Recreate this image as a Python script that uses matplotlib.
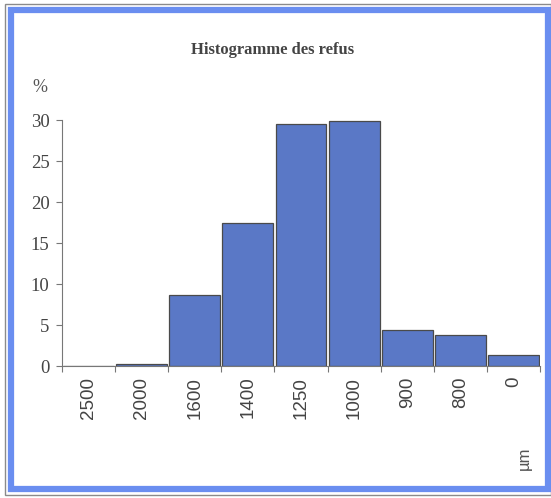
import matplotlib
matplotlib.use("Agg")
import matplotlib.pyplot as plt
from matplotlib.patches import Rectangle

# tamis (µm) et refus (%)
tamis = ["2500", "2000", "1600", "1400", "1250", "1000", "900", "800", "0"]
refus = [0.05, 0.2, 8.7, 17.4, 29.5, 29.9, 4.4, 3.8, 1.3]
yticks = [0, 5, 10, 15, 20, 25, 30]

W, H = 551, 498
fig = plt.figure(figsize=(W / 100, H / 100), dpi=100)
fig.patch.set_facecolor("white")

# cadre : trait gris puis bande bleue
fig.add_artist(Rectangle((5 / W, 3 / H), 546 / W, 491 / H, transform=fig.transFigure,
                         fill=False, edgecolor="#8a8a8a", linewidth=1.0))
fig.add_artist(Rectangle((11 / W, 9 / H), 537 / W, 479 / H, transform=fig.transFigure,
                         fill=False, edgecolor="#6a8ef0", linewidth=4.5))

ax = fig.add_axes([62 / W, 1 - 366 / H, 478 / W, 246 / H])
x = range(len(tamis))
ax.bar(x, refus, width=0.96, color="#5a78c6", edgecolor="#4a4a4a", linewidth=0.9)

ax.set_xlim(-0.5, len(tamis) - 0.5)
ax.set_ylim(0, 30)
ax.set_yticks(yticks)
ax.set_yticklabels([str(v) for v in yticks], family="Liberation Serif", fontsize=13.5, color="#444444")
ax.set_xticks([i - 0.5 for i in range(len(tamis) + 1)])
ax.set_xticklabels([""] * (len(tamis) + 1))
for i, t in enumerate(tamis):
    ax.text(i, -1.3, t, rotation=90, ha="center", va="top", fontsize=13.5,
            family="Liberation Sans", color="#444444")

for s in ["top", "right"]:
    ax.spines[s].set_visible(False)
for s in ["left", "bottom"]:
    ax.spines[s].set_color("#777777")
    ax.spines[s].set_linewidth(0.8)
ax.tick_params(axis="both", length=4, color="#777777", width=0.8, pad=5)

fig.text(273 / W, 1 - 50 / H, "Histogramme des refus", ha="center", va="center",
         family="Liberation Serif", fontweight="bold", fontsize=12, color="#444444")
fig.text(40 / W, 1 - 88 / H, "%", ha="center", va="center",
         family="Liberation Serif", fontsize=13, color="#555555")
fig.text(524 / W, 1 - 458 / H, "µm", ha="center", va="center", rotation=90,
         family="Liberation Sans", fontsize=12, color="#555555")

fig.savefig("out.png", dpi=100)
